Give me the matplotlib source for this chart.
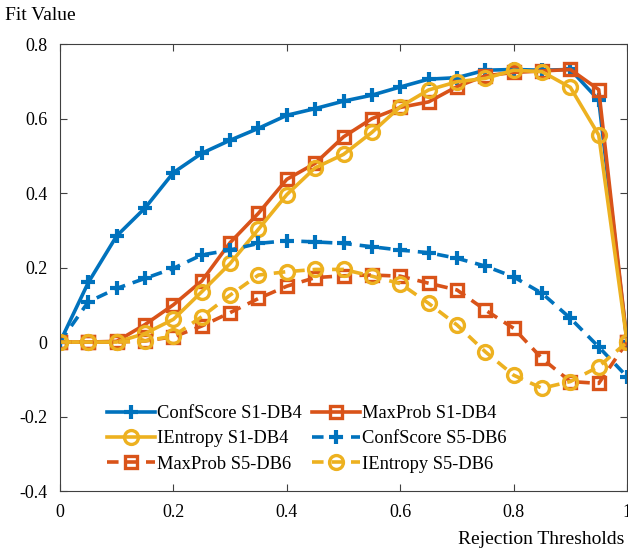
import matplotlib
matplotlib.use("Agg")
import matplotlib.pyplot as plt
import numpy as np

plt.rcParams["font.family"] = ["Liberation Serif", "DejaVu Serif"]

# пороги отбраковки 0..1 шагом 0.05
thresholds = [0.0, 0.05, 0.1, 0.15, 0.2, 0.25, 0.3, 0.35, 0.4, 0.45, 0.5,
              0.55, 0.6, 0.65, 0.7, 0.75, 0.8, 0.85, 0.9, 0.95, 1.0]

conf_s1 = [0.0, 0.16, 0.285, 0.36, 0.455, 0.507, 0.542, 0.574, 0.609, 0.627, 0.647,
           0.663, 0.685, 0.706, 0.710, 0.730, 0.732, 0.730, 0.732, 0.650, 0.0]
maxp_s1 = [0.0, 0.0, 0.002, 0.047, 0.100, 0.164, 0.267, 0.346, 0.437, 0.480, 0.551,
           0.600, 0.630, 0.645, 0.686, 0.715, 0.724, 0.728, 0.732, 0.678, 0.0]
ient_s1 = [0.0, 0.0, 0.0, 0.023, 0.061, 0.135, 0.211, 0.303, 0.396, 0.468, 0.504,
           0.563, 0.632, 0.677, 0.699, 0.708, 0.730, 0.726, 0.684, 0.556, 0.0]
conf_s5 = [0.0, 0.108, 0.144, 0.171, 0.198, 0.234, 0.247, 0.265, 0.272, 0.269, 0.265,
           0.256, 0.247, 0.240, 0.225, 0.204, 0.175, 0.131, 0.064, -0.013, -0.093]
maxp_s5 = [0.0, 0.0, 0.0, 0.003, 0.014, 0.043, 0.079, 0.117, 0.150, 0.173, 0.178,
           0.180, 0.177, 0.158, 0.140, 0.086, 0.037, -0.044, -0.106, -0.111, 0.0]
ient_s5 = [0.0, 0.0, 0.0, 0.003, 0.016, 0.068, 0.126, 0.180, 0.189, 0.195, 0.195,
           0.177, 0.157, 0.104, 0.046, -0.026, -0.089, -0.124, -0.106, -0.066, 0.0]

BLUE, ORANGE, YELLOW = "#0072BD", "#D95319", "#EDB120"
LW, MS = 2.6, 8

fig = plt.figure(figsize=(6.28, 5.52), dpi=100)
ax = fig.add_axes([0.0955, 0.1105, 0.903, 0.8095])

dash = (0, (3.2, 2.2))
h1, = ax.plot(thresholds, conf_s1, "-", color=BLUE, lw=LW, marker="+", ms=MS + 2, mew=3,
              label="ConfScore S1-DB4")
h2, = ax.plot(thresholds, maxp_s1, "-", color=ORANGE, lw=LW, marker="s", ms=MS, mew=2.4,
              mfc="none", label="MaxProb S1-DB4")
h3, = ax.plot(thresholds, ient_s1, "-", color=YELLOW, lw=LW, marker="o", ms=MS + 2, mew=2.4,
              mfc="none", label="IEntropy S1-DB4")
h4, = ax.plot(thresholds, conf_s5, ls=dash, color=BLUE, lw=LW, marker="+", ms=MS + 2, mew=3,
              label="ConfScore S5-DB6")
h5, = ax.plot(thresholds, maxp_s5, ls=dash, color=ORANGE, lw=LW, marker="s", ms=MS, mew=2.4,
              mfc="none", label="MaxProb S5-DB6")
h6, = ax.plot(thresholds, ient_s5, ls=dash, color=YELLOW, lw=LW, marker="o", ms=MS + 2, mew=2.4,
              mfc="none", label="IEntropy S5-DB6")

ax.set_xlim(0, 1)
ax.set_ylim(-0.4, 0.8)
ax.set_xticks(np.arange(0, 1.01, 0.2))
ax.set_xticklabels(["0", "0.2", "0.4", "0.6", "0.8", "1"])
ax.set_yticks(np.arange(-0.4, 0.81, 0.2))
ax.set_yticklabels(["-0.4", "-0.2", "0", "0.2", "0.4", "0.6", "0.8"])
ax.tick_params(direction="in", top=True, right=True, labelsize=13, length=5,
               color="#404040", pad=9)
for s in ax.spines.values():
    s.set_color("#404040")
    s.set_linewidth(0.8)

fig.text(0.008, 0.972, "Fit Value", fontsize=14, ha="left", va="center")
fig.text(0.995, 0.022, "Rejection Thresholds", fontsize=14, ha="right", va="center")

# порядок как в MATLAB: заполнение по строкам
handles = [h1, h3, h5, h2, h4, h6]
ax.legend(handles=handles, labels=[h.get_label() for h in handles], ncol=2,
          loc="lower left", bbox_to_anchor=(0.06, 0.012), frameon=False,
          fontsize=13.3, handlelength=2.6, handletextpad=0.1, columnspacing=0.55,
          labelspacing=0.45, borderpad=0.2)

fig.savefig("out.png", dpi=100)
